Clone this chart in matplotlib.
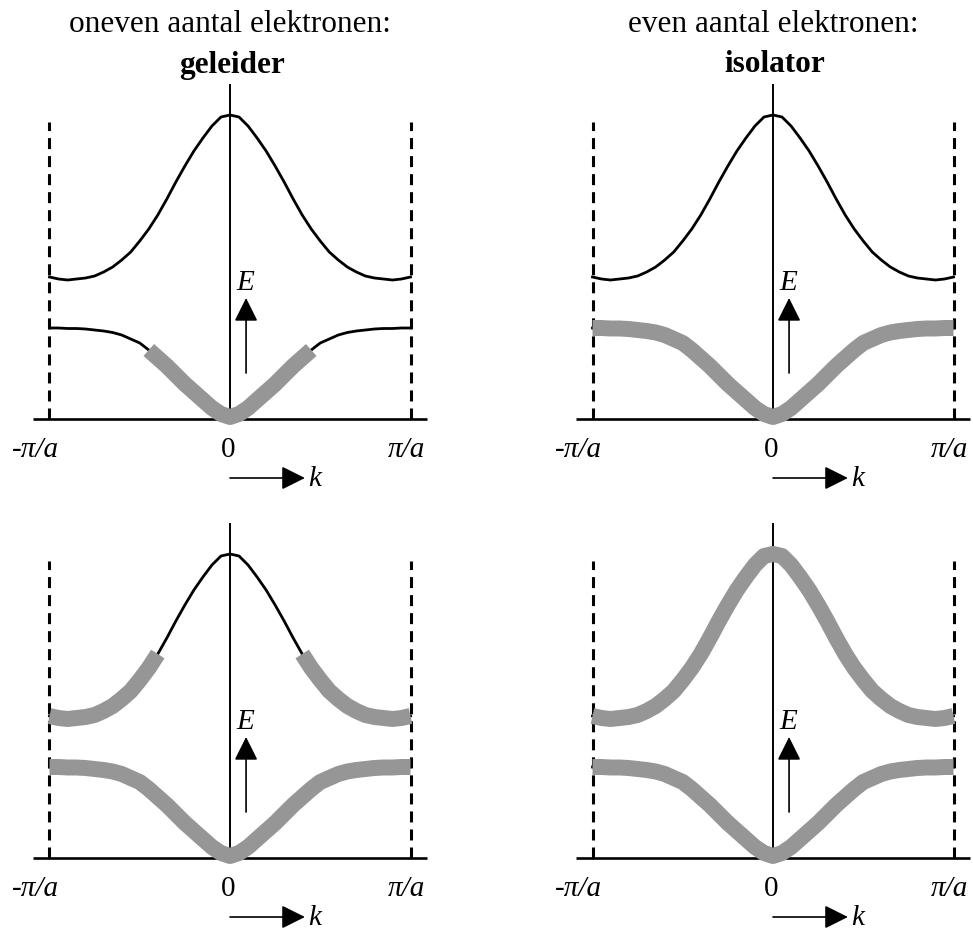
import numpy as np
import matplotlib
matplotlib.use("Agg")
import matplotlib.pyplot as plt

plt.rcParams['font.family'] = ['Liberation Serif', 'DejaVu Serif']

# k in units of pi/a, E in arbitrary units
k = [-1.0, -0.95, -0.9, -0.85, -0.8, -0.75, -0.7, -0.65, -0.6, -0.55, -0.5,
     -0.45, -0.4, -0.35, -0.3, -0.25, -0.2, -0.15, -0.1, -0.05, 0.0,
     0.05, 0.1, 0.15, 0.2, 0.25, 0.3, 0.35, 0.4, 0.45, 0.5,
     0.55, 0.6, 0.65, 0.7, 0.75, 0.8, 0.85, 0.9, 0.95, 1.0]
upper_band = [1.42, 1.40, 1.39, 1.40, 1.41, 1.43, 1.47, 1.52, 1.59, 1.67, 1.78,
              1.90, 2.04, 2.20, 2.37, 2.53, 2.68, 2.81, 2.93, 3.02, 3.04,
              3.02, 2.93, 2.81, 2.68, 2.53, 2.37, 2.20, 2.04, 1.90, 1.78,
              1.67, 1.59, 1.52, 1.47, 1.43, 1.41, 1.40, 1.39, 1.40, 1.42]
lower_band = [0.91, 0.91, 0.905, 0.905, 0.90, 0.89, 0.88, 0.865, 0.84, 0.80, 0.76,
              0.69, 0.61, 0.53, 0.44, 0.35, 0.27, 0.19, 0.11, 0.05, 0.02,
              0.05, 0.11, 0.19, 0.27, 0.35, 0.44, 0.53, 0.61, 0.69, 0.76,
              0.80, 0.84, 0.865, 0.88, 0.89, 0.90, 0.905, 0.905, 0.91, 0.91]

titles = ["oneven aantal elektronen:", "even aantal elektronen:"]
subtitles = ["geleider", "isolator"]
tick_labels = ["-\u03c0/a", "0", "\u03c0/a"]
tick_pos = [-1.075, -0.01, 0.98]

# filled part of each band per panel: (k_min, k_max) ranges, or None
# keys: (row, col) -> top/bottom, left (oneven) / right (even)
filling = {
    (0, 0): {"upper": None, "lower": [(-0.45, 0.45)]},
    (0, 1): {"upper": None, "lower": [(-1.0, 1.0)]},
    (1, 0): {"upper": [(-1.0, -0.40), (0.40, 1.0)], "lower": [(-1.0, 1.0)]},
    (1, 1): {"upper": [(-1.0, 1.0)], "lower": [(-1.0, 1.0)]},
}

GREY = '#969696'
W, H = 973, 930
KPX, EPX = 180.5, 100.0
centers_x = [230, 773]
baselines_y = [419, 858]
KLIM = (-1.25, 1.25)
ELIM = (-0.72, 3.4)

fig = plt.figure(figsize=(W / 100, H / 100), dpi=100)

kk = np.array(k)
bands = {"upper": np.array(upper_band), "lower": np.array(lower_band)}

for row in range(2):
    for col in range(2):
        cx = centers_x[col]
        by = baselines_y[row]
        left = (cx + KLIM[0] * KPX) / W
        bottom = (H - (by - ELIM[0] * EPX)) / H
        ax = fig.add_axes([left, bottom, (KLIM[1] - KLIM[0]) * KPX / W,
                           (ELIM[1] - ELIM[0]) * EPX / H])
        ax.set_xlim(*KLIM)
        ax.set_ylim(*ELIM)
        ax.axis('off')

        # axes
        ax.plot([-1.09, 1.09], [0, 0], color='k', lw=1.9, solid_capstyle='butt')
        ax.plot([0, 0], [0, 3.34], color='k', lw=1.4)
        for kb in (-1, 1):
            ax.plot([kb, kb], [0, 2.97], color='k', lw=2.2, dashes=(3.6, 2.3))

        for name, E in bands.items():
            ax.plot(kk, E, color='k', lw=2.0, zorder=3)
            rngs = filling[(row, col)][name]
            if rngs:
                for lo, hi in rngs:
                    m = (kk >= lo - 1e-9) & (kk <= hi + 1e-9)
                    ax.plot(kk[m], E[m], color=GREY, lw=11.5,
                            solid_capstyle='butt', solid_joinstyle='round',
                            zorder=4)

        # E arrow
        ax.annotate('', xy=(0.089, 1.21), xytext=(0.089, 0.46),
                    arrowprops=dict(arrowstyle='-|>,head_length=1.0,head_width=0.5',
                                    mutation_scale=14.4, lw=1.2, color='k',
                                    shrinkA=0, shrinkB=0))
        ax.text(0.085, 1.36, 'E', fontsize=21, style='italic',
                ha='center', va='center')

        # k arrow
        ax.annotate('', xy=(0.415, -0.59), xytext=(0.0, -0.59),
                    arrowprops=dict(arrowstyle='-|>,head_length=1.0,head_width=0.5',
                                    mutation_scale=14.4, lw=1.2, color='k',
                                    shrinkA=0, shrinkB=0))
        ax.text(0.435, -0.60, 'k', fontsize=21, style='italic',
                ha='left', va='center')

        for pos, lab in zip(tick_pos, tick_labels):
            ax.text(pos, -0.31, lab, fontsize=21,
                    style='normal' if lab == '0' else 'italic',
                    ha='center', va='center')

        if row == 0:
            ax.text(0.0, 3.94, titles[col], fontsize=22.5,
                    ha='center', va='center', clip_on=False)
            ax.text(0.01, 3.54, subtitles[col], fontsize=22.5,
                    fontweight='bold', ha='center', va='center', clip_on=False)

fig.savefig('out.png', dpi=100)
